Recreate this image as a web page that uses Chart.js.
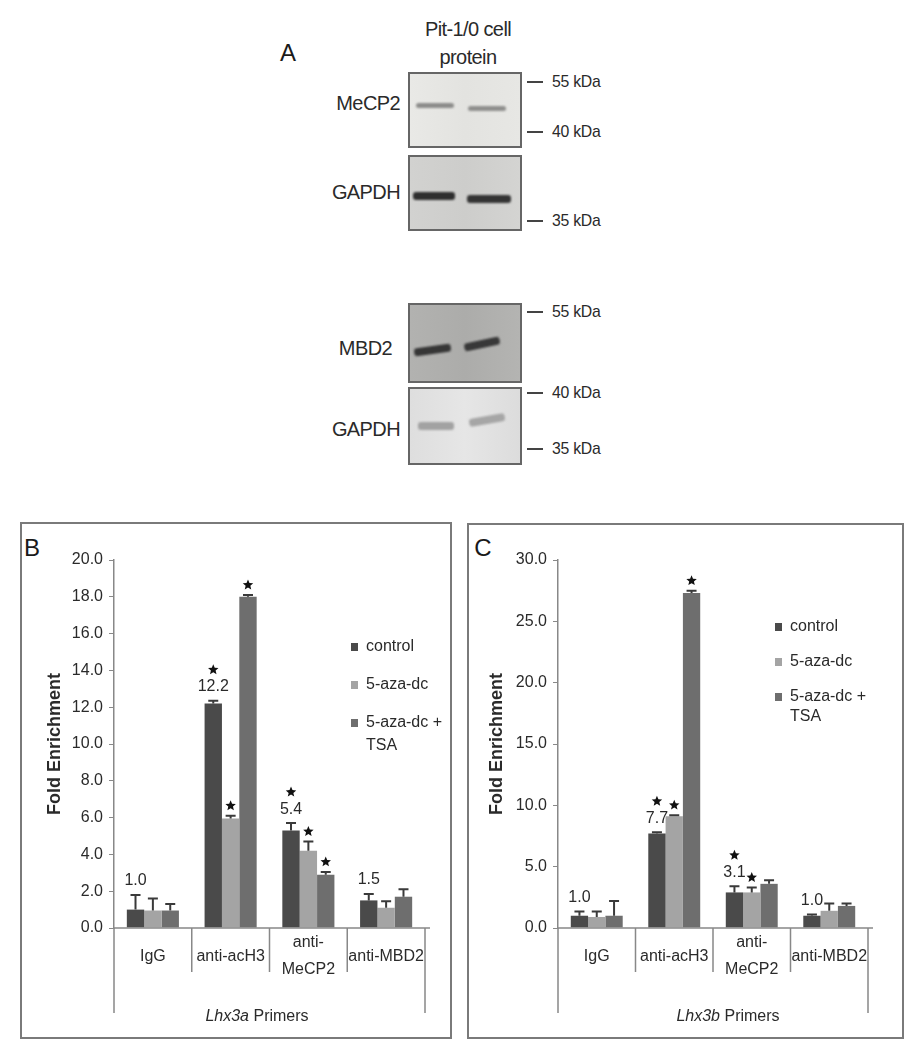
<!DOCTYPE html>
<html><head><meta charset="utf-8">
<script src="https://cdn.jsdelivr.net/npm/chart.js@4.4.1/dist/chart.umd.min.js"></script>
<style>
body{margin:0;background:#fff;width:909px;height:1050px;position:relative;overflow:hidden;font-family:"Liberation Sans",Arial,sans-serif;color:#222}
.a{position:absolute;white-space:nowrap}
.lbl{font-size:20px;letter-spacing:-0.6px;color:#2a2a2a;text-align:right;width:120px;transform:translateY(-50%)}
.kda{font-family:"Liberation Sans",Arial,sans-serif;font-size:17px;letter-spacing:-0.3px;color:#2a2a2a;transform-origin:left center;transform:translateY(-50%) scaleX(0.93)}
.tick{position:absolute;height:2px;background:#444;width:16px;left:527px}
.box{position:absolute;left:408px;width:110px;border:2px solid #666}
.band{position:absolute;border-radius:3px;filter:blur(1.2px)}
.frame{position:absolute;border:2px solid #7a7a7a;box-sizing:border-box}
.panel{position:absolute;font-size:24px;color:#1a1a1a;transform:translate(-50%,-50%)}
canvas{position:absolute}
</style></head><body>

<!-- Panel A : western blots -->
<div class="panel" style="left:288px;top:53px">A</div>
<div class="a" style="left:468px;top:29px;transform:translate(-50%,-50%);font-size:20px;letter-spacing:-0.6px;color:#2a2a2a">Pit-1/0 cell</div>
<div class="a" style="left:468px;top:57px;transform:translate(-50%,-50%);font-size:20px;letter-spacing:-0.6px;color:#2a2a2a">protein</div>

<div class="box" style="top:72px;height:72px;background:linear-gradient(90deg,#e9e9e6,#e3e3e0 50%,#e7e7e4)">
  <div class="band" style="left:6px;top:29px;width:38px;height:5px;background:#8c8c8a"></div>
  <div class="band" style="left:58px;top:32px;width:38px;height:5px;background:#8f8f8d"></div>
</div>
<div class="box" style="top:155px;height:72px;background:linear-gradient(90deg,#d2d2d0,#cdcdcb 50%,#d4d4d2)">
  <div class="band" style="left:3px;top:35px;width:42px;height:8px;background:#2e2e2e"></div>
  <div class="band" style="left:57px;top:38px;width:44px;height:8px;background:#343434"></div>
</div>
<div class="a lbl" style="left:280px;top:103px">MeCP2</div>
<div class="a lbl" style="left:280px;top:192px">GAPDH</div>
<div class="tick" style="top:81px"></div><div class="a kda" style="left:552px;top:82px">55 kDa</div>
<div class="tick" style="top:131px"></div><div class="a kda" style="left:552px;top:132px">40 kDa</div>
<div class="tick" style="top:220px"></div><div class="a kda" style="left:552px;top:221px">35 kDa</div>

<div class="box" style="top:303px;height:76px;background:linear-gradient(90deg,#b2b2b0,#acacaa 50%,#b4b4b2)">
  <div class="band" style="left:4px;top:41px;width:37px;height:8px;background:#363636;transform:rotate(-8deg)"></div>
  <div class="band" style="left:54px;top:35px;width:36px;height:8px;background:#383838;transform:rotate(-12deg)"></div>
</div>
<div class="box" style="top:387px;height:74px;background:linear-gradient(90deg,#dedede,#e6e6e6 50%,#dcdcdc)">
  <div class="band" style="left:8px;top:33px;width:36px;height:8px;background:#a2a2a2"></div>
  <div class="band" style="left:59px;top:27px;width:36px;height:8px;background:#a6a6a6;transform:rotate(-10deg)"></div>
</div>
<div class="a lbl" style="left:272px;top:348px">MBD2</div>
<div class="a lbl" style="left:280px;top:429px">GAPDH</div>
<div class="tick" style="top:311px"></div><div class="a kda" style="left:552px;top:312px">55 kDa</div>
<div class="tick" style="top:392px"></div><div class="a kda" style="left:552px;top:393px">40 kDa</div>
<div class="tick" style="top:448px"></div><div class="a kda" style="left:552px;top:449px">35 kDa</div>

<!-- Panels B and C -->
<div class="frame" style="left:20px;top:522px;width:432px;height:517px"></div>
<div class="frame" style="left:467px;top:523px;width:437px;height:516px"></div>
<div class="panel" style="left:32px;top:548px">B</div>
<div class="panel" style="left:483px;top:548px">C</div>
<canvas id="chartB" style="left:22px;top:524px" width="427" height="512"></canvas>
<canvas id="chartC" style="left:469px;top:525px" width="432" height="511"></canvas>

<script>
// ---------- data ----------
const categories = ['IgG', 'anti-acH3', 'anti-MeCP2', 'anti-MBD2'];
const categoryLines = [['IgG'], ['anti-acH3'], ['anti-', 'MeCP2'], ['anti-MBD2']];
const seriesNames = ['control', '5-aza-dc', '5-aza-dc + TSA'];
const legendLines = [['control'], ['5-aza-dc'], ['5-aza-dc +', 'TSA']];
const seriesColors = ['#4a4a4a', '#a4a4a4', '#6e6e6e'];

// Panel B (Lhx3a primers)
const bControl = [1.0, 12.2, 5.3, 1.5];
const bAza = [0.95, 5.95, 4.2, 1.1];
const bAzaTsa = [0.95, 18.0, 2.9, 1.7];
const bControlErr = [1.8, 12.35, 5.7, 1.85];
const bAzaErr = [1.6, 6.1, 4.7, 1.45];
const bAzaTsaErr = [1.3, 18.1, 3.05, 2.1];
const bStars = [[0, 1, 1, 0], [0, 1, 1, 0], [0, 1, 1, 0]];
const bValueLabels = [['1.0', '12.2', '5.4', '1.5'], ['', '', '', ''], ['', '', '', '']];
const bTicks = [0, 20, 2];

// Panel C (Lhx3b primers)
const cControl = [1.0, 7.7, 2.9, 1.0];
const cAza = [0.9, 9.1, 2.9, 1.4];
const cAzaTsa = [1.0, 27.3, 3.6, 1.8];
const cControlErr = [1.35, 7.8, 3.4, 1.1];
const cAzaErr = [1.35, 9.2, 3.3, 2.0];
const cAzaTsaErr = [2.2, 27.5, 3.9, 2.0];
const cStars = [[0, 1, 1, 0], [0, 1, 1, 0], [0, 1, 0, 0]];
const cValueLabels = [['1.0', '7.7', '3.1', '1.0'], ['', '', '', ''], ['', '', '', '']];
const cTicks = [0, 30, 5];

// ---------- drawing ----------
const FONT = '"Liberation Sans", Arial, sans-serif';
function drawStar(ctx, x, y, r) {
  ctx.beginPath();
  for (let k = 0; k < 10; k++) {
    const rr = k % 2 === 0 ? r : r * 0.45;
    const a = -Math.PI / 2 + k * Math.PI / 5;
    const px = x + rr * Math.cos(a), py = y + rr * Math.sin(a);
    k === 0 ? ctx.moveTo(px, py) : ctx.lineTo(px, py);
  }
  ctx.closePath();
  ctx.fillStyle = '#111';
  ctx.fill();
}

function panelPlugin(cfg) {
  return {
    id: 'panelDeco',
    afterDatasetsDraw(chart) {
      const ctx = chart.ctx, ys = chart.scales.y;
      ctx.save();
      chart.data.datasets.forEach((ds, di) => {
        const meta = chart.getDatasetMeta(di);
        meta.data.forEach((bar, i) => {
          const x = bar.x, yTop = ys.getPixelForValue(cfg.errs[di][i]);
          ctx.strokeStyle = '#3a3a3a'; ctx.lineWidth = 2;
          ctx.beginPath();
          ctx.moveTo(x, bar.y); ctx.lineTo(x, yTop);
          ctx.moveTo(x - 5, yTop); ctx.lineTo(x + 5, yTop);
          ctx.stroke();
          let yc = yTop;
          const lab = cfg.valueLabels[di][i];
          if (lab) {
            yc -= 14;
            ctx.fillStyle = '#2a2a2a'; ctx.font = '16px ' + FONT;
            ctx.textAlign = 'center'; ctx.textBaseline = 'middle';
            ctx.fillText(lab, x, yc);
            yc -= 17;
          } else {
            yc -= 10;
          }
          if (cfg.stars[di][i]) drawStar(ctx, x, yc, 5.5);
        });
      });
      ctx.restore();
    },
    afterDraw(chart) {
      const ctx = chart.ctx, ca = chart.chartArea;
      ctx.save();
      ctx.strokeStyle = '#888'; ctx.lineWidth = 1.5;
      const n = categories.length, w = (ca.right - ca.left) / n;
      ctx.beginPath();
      ctx.moveTo(ca.left, ca.bottom); ctx.lineTo(ca.right + 5, ca.bottom);
      ctx.moveTo(ca.left, ca.bottom); ctx.lineTo(ca.left, ca.bottom + 85);
      ctx.moveTo(ca.right, ca.bottom); ctx.lineTo(ca.right, ca.bottom + 85);
      for (let k = 1; k < n; k++) {
        const x = ca.left + k * w;
        ctx.moveTo(x, ca.bottom); ctx.lineTo(x, ca.bottom + 44);
      }
      ctx.stroke();
      ctx.fillStyle = '#2a2a2a'; ctx.font = '16px ' + FONT;
      ctx.textAlign = 'center'; ctx.textBaseline = 'middle';
      categoryLines.forEach((lines, i) => {
        const x = ca.left + (i + 0.5) * w;
        if (lines.length === 1) ctx.fillText(lines[0], x, ca.bottom + 29);
        else { ctx.fillText(lines[0], x, ca.bottom + 15); ctx.fillText(lines[1], x, ca.bottom + 42); }
      });
      const py = ca.bottom + 89;
      const g = cfg.gene + ' ';
      ctx.font = 'italic 16px ' + FONT; const gw = ctx.measureText(g).width;
      ctx.font = '16px ' + FONT; const pw = ctx.measureText('Primers').width;
      const px0 = ca.left + cfg.primerDx - (gw + pw) / 2;
      ctx.textAlign = 'left';
      ctx.font = 'italic 16px ' + FONT; ctx.fillText(g, px0, py);
      ctx.font = '16px ' + FONT; ctx.fillText('Primers', px0 + gw, py);
      ctx.save();
      ctx.translate(cfg.titleX, (ca.top + ca.bottom) / 2);
      ctx.rotate(-Math.PI / 2);
      ctx.textAlign = 'center'; ctx.font = 'bold 18px ' + FONT; ctx.fillStyle = '#2a2a2a';
      ctx.fillText('Fold Enrichment', 0, 0);
      ctx.restore();
      const L = cfg.legend;
      let y = ca.top + L.y;
      legendLines.forEach((lines, i) => {
        ctx.fillStyle = seriesColors[i];
        ctx.fillRect(ca.left + L.x, y - 4, 7, 8);
        ctx.fillStyle = '#2a2a2a'; ctx.font = '16px ' + FONT;
        ctx.textAlign = 'left';
        lines.forEach((t, j) => ctx.fillText(t, ca.left + L.x + 15, y + j * L.lineGap));
        y += L.gap;
      });
      ctx.restore();
    }
  };
}

function makeChart(id, series, errs, stars, valueLabels, ticks, geo, extra) {
  const [min, max, step] = ticks;
  new Chart(document.getElementById(id), {
    type: 'bar',
    data: {
      labels: categories,
      datasets: series.map((d, i) => ({
        label: seriesNames[i], data: d, backgroundColor: seriesColors[i],
        categoryPercentage: 0.67, barPercentage: 1.0, borderWidth: 0
      }))
    },
    options: {
      responsive: false, animation: false, events: [],
      layout: { padding: { left: 0, top: geo.top, right: geo.right, bottom: 0 } },
      plugins: { legend: { display: false }, tooltip: { enabled: false } },
      scales: {
        x: {
          grid: { display: false }, border: { display: false },
          ticks: { display: false },
          afterFit: s => { s.height = geo.xh; }
        },
        y: {
          min: min, max: max,
          ticks: {
            stepSize: step, padding: 6, color: '#2a2a2a',
            font: { family: FONT, size: 16 },
            callback: v => Number(v).toFixed(1)
          },
          grid: { drawOnChartArea: false, drawTicks: true, tickLength: 5, color: '#888' },
          border: { display: true, color: '#888', width: 1.5 },
          afterFit: s => { s.width = geo.yw; }
        }
      }
    },
    plugins: [panelPlugin(Object.assign({ errs, stars, valueLabels }, extra))]
  });
}

makeChart('chartB', [bControl, bAza, bAzaTsa], [bControlErr, bAzaErr, bAzaTsaErr], bStars, bValueLabels, bTicks,
  { top: 36, right: 24, xh: 108, yw: 92 },
  { gene: 'Lhx3a', primerDx: 143, titleX: 33, legend: { x: 237, y: 87, gap: 38, lineGap: 23 } });
makeChart('chartC', [cControl, cAza, cAzaTsa], [cControlErr, cAzaErr, cAzaTsaErr], cStars, cValueLabels, cTicks,
  { top: 35, right: 33, xh: 108, yw: 89 },
  { gene: 'Lhx3b', primerDx: 170, titleX: 28, legend: { x: 217, y: 67, gap: 35, lineGap: 20 } });
</script>
</body></html>
